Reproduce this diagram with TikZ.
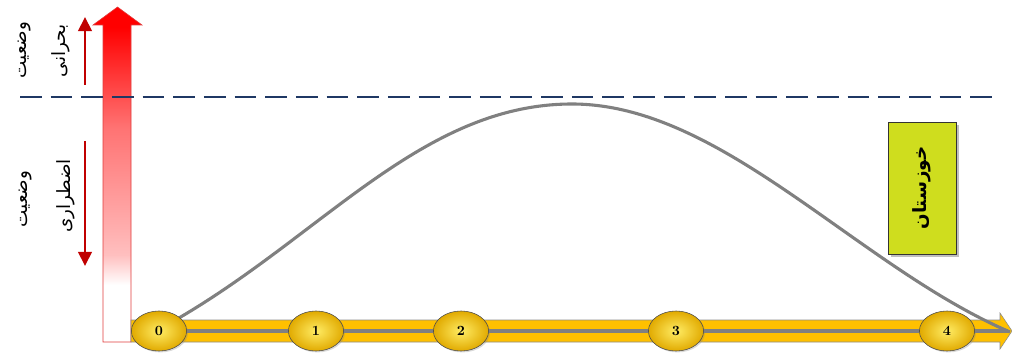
\documentclass[tikz,border=0pt]{standalone}
\usepackage{fontspec}
\newfontfamily\farsi[Script=Arabic]{DejaVu Sans}
\TeXXeTstate=1
\usepackage{tikz}
\usetikzlibrary{arrows.meta,positioning,calc,shapes.geometric,shadows}

\definecolor{gold}{RGB}{255,192,0}
\definecolor{gelbhell}{RGB}{255,236,100}
\definecolor{gelbdunkel}{RGB}{225,170,0}
\definecolor{gruengelb}{RGB}{207,221,30}
\definecolor{dunkelblau}{RGB}{31,56,100}
\definecolor{dunkelrot}{RGB}{192,0,0}
\definecolor{rotrand}{RGB}{225,60,60}
\definecolor{grau}{RGB}{128,128,128}

\pgfdeclareverticalshading{rotverlauf}{100bp}{color(0bp)=(white); color(33.5bp)=(white); color(38bp)=(red!25); color(42bp)=(red!32); color(57bp)=(red!55); color(72bp)=(red); color(100bp)=(red)}

\begin{document}
\begin{tikzpicture}[x=0.025cm, y=-0.025cm,
          punkt/.style={ellipse, draw=black!70, thin, minimum width=1.38cm, minimum height=1cm, inner sep=0pt,
                        shading=radial, inner color=gelbhell, outer color=gelbdunkel,
                        font=\bfseries\fontsize{10}{12}\selectfont,
                        drop shadow={opacity=0.3, shadow xshift=1pt, shadow yshift=-1pt}},
          zustand/.style={font=\farsi\fontsize{13}{15}\selectfont, inner sep=0pt},
          kasten/.style={draw=black!80, fill=gruengelb, minimum width=1.7cm, minimum height=3.3cm, inner sep=0pt,
                         font=\farsi\bfseries\fontsize{13}{15}\selectfont,
                         drop shadow={opacity=0.5, shadow xshift=2pt, shadow yshift=-2pt}},
          pfeilchen/.style={dunkelrot, line width=2.1pt, -{Triangle[length=10pt, width=9.5pt]}}
        ]
          \useasboundingbox (0,0) rectangle (1012,353);

          % Roter Pfeil
          \shade[shading=rotverlauf, draw=rotrand, thin]
            (103,342) -- (103,25) -- (93,25) -- (117.5,7) -- (142,25) -- (131,25) -- (131,342) -- cycle;

          % Kleine Pfeile
          \coordinate (oben1) at (85,85);
          \coordinate (oben2) at (85,17);
          \coordinate (unten1) at (85,141);
          \coordinate (unten2) at (85,266);
          \draw[pfeilchen] (oben1) -- (oben2);
          \draw[pfeilchen] (unten1) -- (unten2);

          % Beschriftung links
          \node[zustand, rotate=90] (krise1) at (24,50) {\beginR وضعیت\endR};
          \node[zustand, rotate=90] (krise2) at (61,51) {\beginR بحرانی\endR};
          \node[zustand, rotate=90] (notfall1) at (25,199) {\beginR وضعیت\endR};
          \node[zustand, rotate=90] (notfall2) at (66,196) {\beginR اضطراری\endR};

          % Grenze
          \coordinate (grenzeA) at (20,97);
          \coordinate (grenzeB) at (992,97);
          \draw[dunkelblau, line width=1.5pt, dash pattern=on 15.4pt off 6.4pt] (grenzeA) -- (grenzeB);

          % Zeitachse
          \draw[fill=gold, draw=black!45, thin]
            (131,320) -- (1000,320) -- (1000,313) -- (1012,331) -- (1000,349) -- (1000,342) -- (131,342) -- cycle;
          \coordinate (achsenende) at (1008,331);
          \draw[grau, line width=2.8pt] (133,331) -- (achsenende);

          % Verlauf
          \coordinate (start) at (172,322);
          \coordinate (gipfel) at (572,104);
          \coordinate (ende) at (1010,332);
          \draw[grau, line width=2.2pt] (start) .. controls (322,236.5) and (422,104) .. (gipfel)
                                                .. controls (722,104) and (858,267) .. (ende);

          % Zeitpunkte
          \node[punkt] (t0) at (159,331) {0};
          \node[punkt] (t1) at (316,331) {1};
          \node[punkt] (t2) at (461,331) {2};
          \node[punkt] (t3) at (676,331) {3};
          \node[punkt] (t4) at (947,331) {4};

          % Provinz
          \node[kasten] (provinz) at (922,188) {\rotatebox{90}{\beginR خوزستان\endR}};
        \end{tikzpicture}
\end{document}
